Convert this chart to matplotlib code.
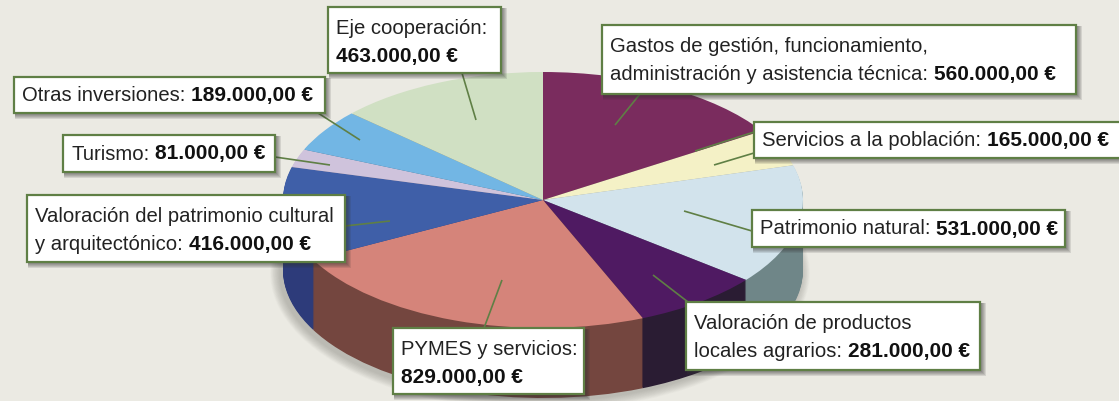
import matplotlib
matplotlib.use("Agg")
import matplotlib.pyplot as plt
from matplotlib.patches import Rectangle, Ellipse
from matplotlib.transforms import Affine2D

plt.rcParams['font.family'] = ['Liberation Sans', 'DejaVu Sans']

# clockwise from 12 o'clock
values = [560000, 165000, 531000, 281000, 829000, 416000, 81000, 189000, 463000]
top_colors = ['#7A2C5E', '#F4F1C6', '#D2E3EC', '#4F1A62', '#D5847A',
              '#3F5FA8', '#CFC3DC', '#72B6E4', '#D0E0C3']
side_colors = ['#4A1C3A', '#A8A68A', '#6F8688', '#2A1C33', '#74463F',
               '#2D3B7A', '#7C7588', '#3F6A88', '#7F8C75']
label_first = ['Gastos de gestión, funcionamiento,', 'Servicios a la población:',
               'Patrimonio natural:', 'Valoración de productos', 'PYMES y servicios:',
               'Valoración del patrimonio cultural', 'Turismo:', 'Otras inversiones:',
               'Eje cooperación:']
label_second = ['administración y asistencia técnica:', None, None, 'locales agrarios:',
                '', 'y arquitectónico:', None, None, '']

# x0, y0, x1, y1 of each label box in pixels
boxes = [(602, 25, 1076, 94), (754, 122, 1125, 158), (752, 210, 1065, 247),
         (686, 302, 980, 370), (393, 328, 584, 394), (27, 195, 345, 262),
         (63, 135, 275, 172), (14, 77, 325, 113), (328, 7, 501, 73)]
leaders = [[(640, 94, 615, 125), (754, 132, 695, 151)], [(754, 153, 714, 165)],
           [(752, 231, 684, 211)], [(688, 302, 653, 275)], [(484, 328, 502, 280)],
           [(345, 226, 390, 221)], [(275, 157, 330, 165)], [(318, 113, 360, 140)],
           [(462, 73, 476, 120)]]

BG = '#EBEAE3'
GREEN = '#5F7F45'
CX, CY, RX, RY = 543, 200, 260, 128
DEPTH = 70
REG_SIZE = 14.6
BOLD_SIZE = 15.0


def euros(v):
    return f"{v:,.2f}".replace(',', '#').replace('.', ',').replace('#', '.') + ' €'


fig = plt.figure(figsize=(11.19, 4.01), dpi=100, facecolor=BG)
ax = fig.add_axes([0, 0, 1, 1])

for k in range(14, 0, -1):
    ax.add_patch(Ellipse((CX - 3, CY + DEPTH + 3), 2 * RX + k * 1.4, 2 * RY + k * 1.4,
                         fc='#55554c', ec='none', alpha=0.025, zorder=1))


def draw_pie(colors, dy, z):
    wedges, _ = ax.pie(values, colors=colors, startangle=90, counterclock=False)
    t = Affine2D().scale(RX, -RY).translate(CX, CY + dy) + ax.transData
    for w in wedges:
        w.set_transform(t)
        w.set_edgecolor('none')
        w.set_zorder(z)


for dy in range(DEPTH, 0, -1):
    draw_pie(side_colors, dy, 2)
draw_pie(top_colors, 0, 3)

ax.set_aspect('auto')
ax.set_xlim(0, 1119)
ax.set_ylim(401, 0)
ax.set_xticks([])
ax.set_yticks([])
ax.set_frame_on(False)

renderer = fig.canvas.get_renderer()
kw = dict(fontsize=REG_SIZE, color='#222222', va='baseline', zorder=7)
bold = dict(fontsize=BOLD_SIZE, color='#111111', fontweight='bold', va='baseline', zorder=7)


def after(t, base, s):
    # bold amount goes right after the regular text, on the same baseline
    x_end = t.get_window_extent(renderer).x1
    x_data = ax.transData.inverted().transform((x_end, 0))[0]
    ax.text(x_data + 6, base, s, **bold)


for i, v in enumerate(values):
    x0, y0, x1, y1 = boxes[i]
    for lx0, ly0, lx1, ly1 in leaders[i]:
        ax.plot([lx0, lx1], [ly0, ly1], color=GREEN, lw=1.2, zorder=4, solid_capstyle='butt')
    for k in range(5, 0, -1):
        ax.add_patch(Rectangle((x0 + 1, y0 + 1), x1 - x0 + k, y1 - y0 + k, fc='#333333',
                               ec='none', alpha=0.13, zorder=5))
    ax.add_patch(Rectangle((x0, y0), x1 - x0, y1 - y0, fc='white', ec=GREEN, lw=1.6, zorder=6))

    tx = x0 + 8
    if label_second[i] is None:
        base = (y0 + y1) / 2 + 6
        t = ax.text(tx, base, label_first[i], **kw)
        after(t, base, euros(v))
    else:
        ax.text(tx, y0 + 27, label_first[i], **kw)
        if label_second[i]:
            t = ax.text(tx, y0 + 55, label_second[i], **kw)
            after(t, y0 + 55, euros(v))
        else:
            ax.text(tx, y0 + 55, euros(v), **bold)

fig.savefig('out.png', dpi=100, facecolor=BG)
